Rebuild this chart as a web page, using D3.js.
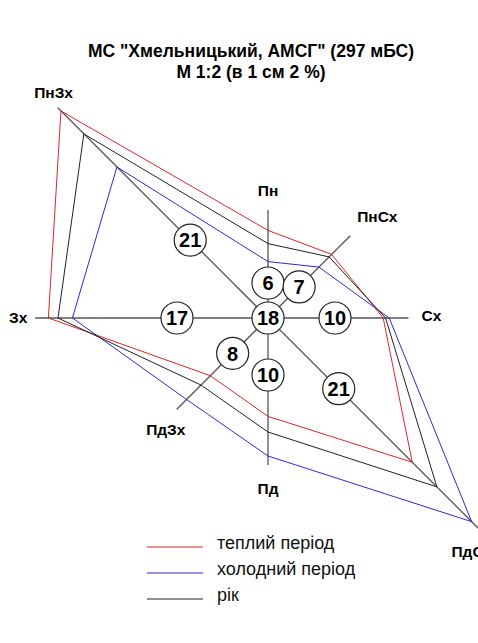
<!DOCTYPE html>
<html>
<head>
<meta charset="utf-8">
<script src="https://cdn.jsdelivr.net/npm/d3@7"></script>
<style>
  html, body { margin: 0; padding: 0; background: #fff; }
  svg { display: block; font-family: "Liberation Sans", Arial, sans-serif; }
</style>
</head>
<body>
<div id="chart"></div>
<script>
// wind rose, % of observations by direction (clockwise from north)
const directions = ["Пн", "ПнСх", "Сх", "ПдСх", "Пд", "ПдЗх", "Зх", "ПнЗх"];
const warmPeriod = [7.3, 7.5, 9.6, 17.0, 8.2, 6.8, 18.3, 24.4];
const coldPeriod = [4.7, 6.0, 10.1, 24.0, 11.5, 9.6, 16.3, 17.8];
const yearAll    = [6.2, 7.2, 9.8, 19.9, 9.5, 7.9, 17.5, 21.7];
const badgeValues = [6, 7, 10, 21, 10, 8, 17, 21];
const calm = 18;
// how far each axis line is drawn, in %
const axisExtent = [9.0, 9.7, 11.7, 25.2, 12.25, 10.75, 19.4, 24.8];

const seriesNames = ["теплий період", "холодний період", "рік"];
const seriesColors = ["#e02525", "#2a2ad8", "#222"];

const width = 478, height = 643;
const cx = 268, cy = 318;

// 1 % -> 12 px
const r = d3.scaleLinear().domain([0, 1]).range([0, 12]);
const angle = d3.scalePoint().domain(directions).range([0, 2 * Math.PI * 7 / 8]);

// layout tweaks (px): where the number badges sit, and label nudges
const badgeDist = [35, 44, 67, 100, 57, 50, 91, 110];
const labelOffset = [[0, -19], [27, -19], [23, -2], [-10, 20], [0, 24], [-11, 20], [-17, 0], [-4, -15]];

const svg = d3.select("#chart").append("svg")
    .attr("width", width)
    .attr("height", height);

// title
svg.append("text")
    .attr("x", 251).attr("y", 57)
    .attr("text-anchor", "middle")
    .attr("font-weight", "bold").attr("font-size", 17.5)
    .text('МС "Хмельницький, АМСГ" (297 мБС)');
svg.append("text")
    .attr("x", 251).attr("y", 78)
    .attr("text-anchor", "middle")
    .attr("font-weight", "bold").attr("font-size", 17.5)
    .text("М 1:2 (в 1 см 2 %)");

const g = svg.append("g").attr("transform", `translate(${cx},${cy})`);

// polar -> xy, angle measured clockwise from north
const px = (a, d) => d * Math.sin(a);
const py = (a, d) => -d * Math.cos(a);

// axes
g.append("g")
    .selectAll("line")
    .data(directions)
    .join("line")
    .attr("x1", 0).attr("y1", 0)
    .attr("x2", (d, i) => px(angle(d), r(axisExtent[i])))
    .attr("y2", (d, i) => py(angle(d), r(axisExtent[i])))
    .attr("stroke", "#555")
    .attr("stroke-width", 1.3);

// direction labels
g.append("g")
    .selectAll("text")
    .data(directions)
    .join("text")
    .attr("x", (d, i) => px(angle(d), r(axisExtent[i])) + labelOffset[i][0])
    .attr("y", (d, i) => py(angle(d), r(axisExtent[i])) + labelOffset[i][1])
    .attr("dy", "0.35em")
    .attr("text-anchor", "middle")
    .attr("font-weight", "bold")
    .attr("font-size", 15.5)
    .text(d => d);

// rose polygons
const line = d3.lineRadial()
    .curve(d3.curveLinearClosed)
    .angle((d, i) => angle(directions[i]))
    .radius(d => r(d));

g.append("g")
    .attr("fill", "none")
    .selectAll("path")
    .data([warmPeriod, coldPeriod, yearAll])
    .join("path")
    .attr("stroke", (d, i) => seriesColors[i])
    .attr("stroke-width", 1)
    .attr("d", line);

// number badges
const badges = g.append("g")
    .selectAll("g")
    .data(badgeValues.map((v, i) => ({ v, a: angle(directions[i]), dist: badgeDist[i] }))
        .concat([{ v: calm, a: 0, dist: 0 }]))
    .join("g")
    .attr("transform", d => `translate(${px(d.a, d.dist)},${py(d.a, d.dist)})`);

badges.append("circle")
    .attr("r", 16)
    .attr("fill", "#fff")
    .attr("stroke", "#222")
    .attr("stroke-width", 1.2);

badges.append("text")
    .attr("text-anchor", "middle")
    .attr("dy", "0.36em")
    .attr("font-weight", "bold")
    .attr("font-size", 20)
    .text(d => d.v);

// legend
const legend = svg.append("g")
    .selectAll("g")
    .data(seriesNames)
    .join("g")
    .attr("transform", (d, i) => `translate(147,${547 + i * 26})`);

legend.append("line")
    .attr("x1", 0).attr("x2", 56)
    .attr("stroke", (d, i) => seriesColors[i])
    .attr("stroke-width", 1.2);

legend.append("text")
    .attr("x", 70).attr("y", 2)
    .attr("font-size", 18)
    .attr("fill", "#111")
    .text(d => d);
</script>
</body>
</html>
